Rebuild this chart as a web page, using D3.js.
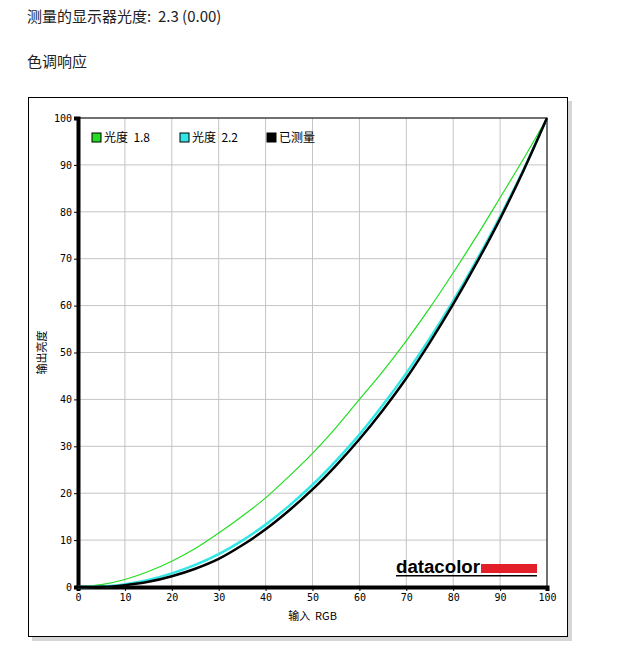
<!DOCTYPE html>
<html><head><meta charset="utf-8">
<script src="https://cdn.jsdelivr.net/npm/d3@7"></script>
<style>
body{margin:0;background:#fff;font-family:"Noto Sans CJK SC","Noto Sans",sans-serif;}
</style></head>
<body><svg id="c" width="641" height="669"></svg>
<script>
var inputs = [0, 5, 10, 15, 20, 25, 30, 35, 40, 45, 50, 55, 60, 65, 70, 75, 80, 85, 90, 95, 100];
var gamma18 = [0, 0.5, 1.6, 3.3, 5.5, 8.2, 11.5, 15.1, 19, 23.6, 28.5, 34, 40, 46, 52.5, 59.5, 67, 74.8, 83, 91.3, 100];
var gamma22 = [0, 0.1, 0.6, 1.5, 2.9, 4.7, 7, 9.9, 13.3, 17.3, 21.8, 26.9, 32.5, 38.8, 45.6, 53, 61, 69.7, 79, 89, 100];
var measured = [0, 0.05, 0.4, 1.1, 2.3, 3.9, 6, 8.9, 12.3, 16.3, 20.8, 25.9, 31.5, 37.7, 44.5, 52.1, 60.3, 69.1, 78.5, 88.8, 100];
var ticks = [0, 10, 20, 30, 40, 50, 60, 70, 80, 90, 100];
var legend = [["光度 1.8", "#22dd22"], ["光度 2.2", "#33e6e6"], ["已测量", "#000"]];

var svg = d3.select('#c');
svg.append('text').attr('x', 27).attr('y', 22).attr('font-size', 15).attr('fill', '#222').attr('xml:space', 'preserve').text('测量的显示器光度:  2.3 (0.00)');
svg.append('text').attr('x', 27).attr('y', 67).attr('font-size', 15).attr('fill', '#222').text('色调响应');

// frame with shadow
svg.append('rect').attr('x', 32).attr('y', 101).attr('width', 540).attr('height', 540).attr('fill', '#bbb').attr('opacity', 0.6);
svg.append('rect').attr('x', 28.5).attr('y', 97.5).attr('width', 539).attr('height', 539).attr('fill', '#fff').attr('stroke', '#000');

var x = d3.scaleLinear().domain([0, 100]).range([78, 547]);
var y = d3.scaleLinear().domain([0, 100]).range([587, 118]);
var g = svg.append('g');

g.selectAll('.gx').data(ticks).join('line')
  .attr('x1', d => x(d)).attr('x2', d => x(d)).attr('y1', y(0)).attr('y2', y(100))
  .attr('stroke', '#c4c4c4');
g.selectAll('.gy').data(ticks).join('line')
  .attr('y1', d => y(d)).attr('y2', d => y(d)).attr('x1', x(0)).attr('x2', x(100))
  .attr('stroke', '#c4c4c4');
g.append('rect').attr('x', x(0)).attr('y', y(100)).attr('width', x(100) - x(0)).attr('height', y(0) - y(100))
  .attr('fill', 'none').attr('stroke', '#000');

var xa = g.append('g').attr('transform', 'translate(0,' + y(0) + ')')
  .call(d3.axisBottom(x).tickValues(ticks).tickSize(4).tickPadding(3));
var ya = g.append('g').attr('transform', 'translate(' + x(0) + ',0)')
  .call(d3.axisLeft(y).tickValues(ticks).tickSize(4).tickPadding(2));
[xa, ya].forEach(a => {
  a.selectAll('text').attr('font-family', '"DejaVu Sans Mono",monospace').attr('font-size', 10).attr('fill', '#000');
  a.select('.domain').attr('stroke', '#000').attr('stroke-width', 4);
});

var line = d3.line().x((d, i) => x(inputs[i])).y(d => y(d)).curve(d3.curveMonotoneX);
g.append('path').datum(gamma18).attr('d', line).attr('fill', 'none').attr('stroke', '#22dd22').attr('stroke-width', 1.2);
g.append('path').datum(gamma22).attr('d', line).attr('fill', 'none').attr('stroke', '#33e6e6').attr('stroke-width', 2.5);
g.append('path').datum(measured).attr('d', line).attr('fill', 'none').attr('stroke', '#000').attr('stroke-width', 2.5);

var lg = g.selectAll('.lg').data(legend).join('g')
  .attr('transform', (d, i) => 'translate(' + (92 + [0, 88, 175][i]) + ',138)');
lg.append('rect').attr('x', 0).attr('y', -5).attr('width', 9).attr('height', 9).attr('fill', d => d[1]).attr('stroke', '#000');
lg.append('text').attr('x', 12).attr('y', 4).attr('font-size', 12).attr('xml:space', 'preserve').text(d => d[0].replace(' ', '  '));

g.append('text').attr('x', x(50)).attr('y', 620).attr('text-anchor', 'middle').attr('font-size', 11).attr('xml:space', 'preserve').text('输入  RGB');
g.append('text').attr('transform', 'translate(46,' + y(50) + ') rotate(-90)').attr('text-anchor', 'middle').attr('font-size', 11).text('输出亮度');

// logo
g.append('rect').attr('x', 396).attr('y', 575).attr('width', 141).attr('height', 1.5).attr('fill', '#000');
g.append('text').attr('x', 396).attr('y', 573).attr('font-family', '"Liberation Sans",Arial').attr('font-weight', 'bold')
  .attr('font-size', 18).attr('textLength', 84).attr('lengthAdjust', 'spacingAndGlyphs').text('datacolor');
g.append('rect').attr('x', 481).attr('y', 564).attr('width', 56).attr('height', 9).attr('fill', '#e3202a');
</script></body></html>
